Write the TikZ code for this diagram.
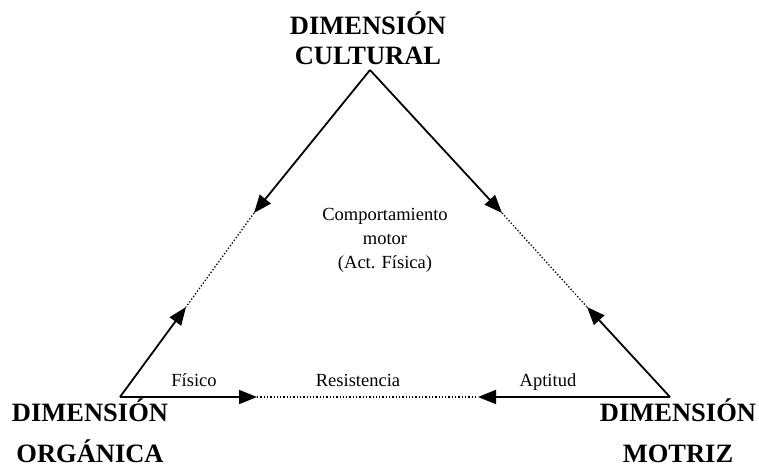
\documentclass[tikz,border=0pt]{standalone}
\usepackage{fontspec}
\setmainfont{Liberation Serif}
\usetikzlibrary{arrows.meta}
\begin{document}
\begin{tikzpicture}[x=1pt,y=1pt,
  solidarrow/.style={line width=1.8pt,-{Triangle[length=18pt,width=14pt]}},
  dotline/.style={line width=1.3pt,dash pattern=on 1.3pt off 2pt},
  dimlabel/.style={font=\fontsize{26.5}{30}\selectfont\bfseries,inner sep=0pt,anchor=base},
  smalllabel/.style={font=\fontsize{18.5}{24}\selectfont,inner sep=0pt,anchor=base,align=center}]
\useasboundingbox (0,0) rectangle (759,470);
% vertices
\coordinate (A) at (370,400);
\coordinate (BL) at (120,73);
\coordinate (BR) at (670,73);
% arrow tips
\coordinate (L1) at (254,257);
\coordinate (L2) at (186,163);
\coordinate (R1) at (502,257);
\coordinate (R2) at (587,163);
\coordinate (B1) at (257,73);
\coordinate (B2) at (478,73);
% edges
\draw[solidarrow] (A) -- (L1);
\draw[dotline] (L1) -- (L2);
\draw[solidarrow] (BL) -- (L2);
\draw[solidarrow] (A) -- (R1);
\draw[dotline] (R1) -- (R2);
\draw[solidarrow] (BR) -- (R2);
\draw[solidarrow] (BL) -- (B1);
\draw[dotline] (B1) -- (B2);
\draw[solidarrow] (BR) -- (B2);
% labels
\node[dimlabel] (cult1) at (368,435) {DIMENSIÓN};
\node[dimlabel] (cult2) at (368,405) {CULTURAL};
\node[dimlabel] (org1) at (90,48) {DIMENSIÓN};
\node[dimlabel] (org2) at (90,7) {ORGÁNICA};
\node[dimlabel] (mot1) at (678,48) {DIMENSIÓN};
\node[dimlabel] (mot2) at (678,7) {MOTRIZ};
\node[smalllabel] (comp1) at (385,249) {Comportamiento};
\node[smalllabel] (comp2) at (385,225) {motor};
\node[smalllabel] (comp3) at (385,201) {(Act. Física)};
\node[smalllabel] (fis) at (194,83) {Físico};
\node[smalllabel] (res) at (358,83) {Resistencia};
\node[smalllabel] (apt) at (548,83) {Aptitud};
\end{tikzpicture}
\end{document}
